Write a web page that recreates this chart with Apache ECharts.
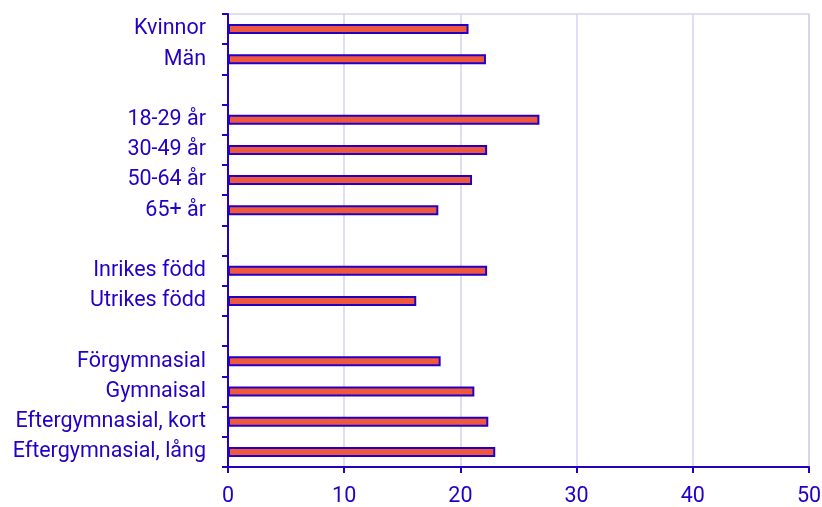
<!DOCTYPE html>
<html>
<head>
<meta charset="utf-8">
<script src="https://cdn.jsdelivr.net/npm/echarts@6/dist/echarts.min.js"></script>
<style>
html, body { margin: 0; padding: 0; background: #fff; }
#main { width: 822px; height: 507px; }
</style>
</head>
<body>
<div id="main"></div>
<script>
// kategorier uppifrån och ned, tomma rader mellan grupperna
var categories = [
	'Kvinnor', 'Män', ' ',
	'18-29 år', '30-49 år', '50-64 år', '65+ år', '  ',
	'Inrikes född', 'Utrikes född', '   ',
	'Förgymnasial', 'Gymnaisal', 'Eftergymnasial, kort', 'Eftergymnasial, lång'
];
var values = [
	20.7, 22.2, '-',
	26.8, 22.3, 21.0, 18.1, '-',
	22.3, 16.2, '-',
	18.3, 21.2, 22.4, 23.0
];
var xTicks = [0, 10, 20, 30, 40, 50];

var blue = '#2400c6';
var gridColor = '#d3d3f0';

var chart = echarts.init(document.getElementById('main'));
var option = {
	animation: false,
	grid: {
		left: 228,
		right: 13,
		top: 14,
		bottom: 40,
		outerBoundsMode: 'none',
		show: true,
		borderColor: gridColor,
		borderWidth: 1.5
	},
	xAxis: {
		type: 'value',
		min: xTicks[0],
		max: xTicks[xTicks.length - 1],
		interval: 10,
		axisLine: { show: true, lineStyle: { color: blue, width: 2 } },
		axisTick: { show: true, length: 6, lineStyle: { color: blue, width: 2 } },
		axisLabel: {
			color: blue,
			fontFamily: 'Roboto',
			fontSize: 21.5,
			margin: 19
		},
		splitLine: { show: true, lineStyle: { color: gridColor, width: 1.5 } }
	},
	yAxis: {
		type: 'category',
		inverse: true,
		data: categories,
		axisLine: { show: true, lineStyle: { color: blue, width: 2 } },
		axisTick: { show: true, length: 6, lineStyle: { color: blue, width: 2 } },
		axisLabel: {
			color: blue,
			fontFamily: 'Roboto',
			fontSize: 21.5,
			margin: 22,
			interval: 0
		},
		splitLine: { show: false }
	},
	series: [
		{
			type: 'bar',
			data: values,
			barWidth: 10,
			itemStyle: {
				color: '#ef583d',
				borderColor: blue,
				borderWidth: 2
			}
		}
	]
};
chart.setOption(option);
</script>
</body>
</html>
